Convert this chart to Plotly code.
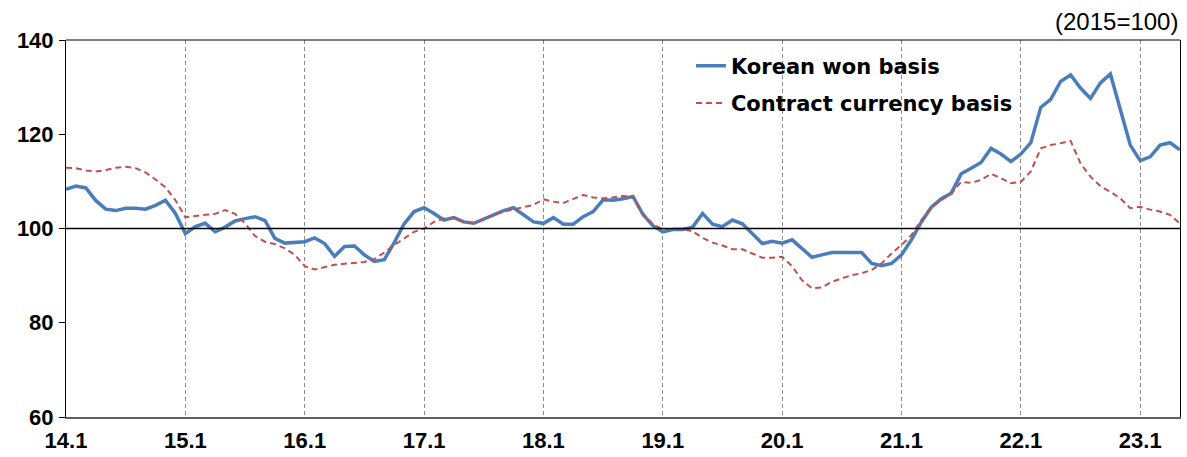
import plotly.graph_objects as go

# monthly index, 2014.1 .. 2023.5 (2015=100)
won_basis = [
    108.3, 109.0, 108.6, 105.9, 104.1, 103.8, 104.3, 104.3, 104.1, 104.9, 106.0, 103.2,
    98.9, 100.4, 101.1, 99.3, 100.3, 101.6, 102.1, 102.5, 101.7, 97.9, 96.9, 97.0,
    97.2, 98.0, 96.8, 94.1, 96.2, 96.3, 94.4, 93.0, 93.4, 97.0, 101.0, 103.6,
    104.4, 103.2, 101.8, 102.3, 101.4, 101.1, 102.0, 102.8, 103.8, 104.4, 102.9, 101.4,
    101.1, 102.3, 100.9, 100.9, 102.5, 103.6, 106.1, 106.0, 106.3, 106.8, 103.0, 100.6,
    99.3, 99.8, 99.8, 100.3, 103.2, 100.9, 100.4, 101.8, 101.0, 98.8, 96.8, 97.3,
    96.9, 97.6, 95.8, 93.9, 94.4, 94.9, 94.9, 94.9, 94.9, 92.6, 92.1, 92.6,
    94.4, 97.6, 101.4, 104.5, 106.3, 107.5, 111.6, 112.8, 114.0, 117.0, 115.8, 114.2,
    115.8, 118.2, 125.7, 127.4, 131.2, 132.6, 129.8, 127.6, 130.9, 132.8, 125.1, 117.7,
    114.4, 115.2, 117.7, 118.2, 116.7,
]
contract_basis = [
    112.9, 112.8, 112.3, 112.1, 112.4, 112.9, 113.1, 112.8, 111.9, 110.4, 108.7, 106.0,
    102.4, 102.7, 102.9, 103.1, 103.9, 103.1, 101.1, 98.4, 97.2, 96.7, 95.8, 94.4,
    92.0, 91.3, 91.8, 92.3, 92.5, 92.7, 92.9, 93.5, 94.9, 96.5, 97.9, 99.3,
    100.0, 101.4, 102.1, 102.2, 101.3, 101.1, 102.0, 102.9, 103.6, 104.1, 104.6, 105.0,
    106.2, 105.7, 105.4, 106.2, 107.1, 106.6, 106.4, 106.6, 106.9, 106.8, 103.2, 100.9,
    99.8, 99.9, 99.9, 99.4, 98.0, 97.0, 96.4, 95.6, 95.6, 94.7, 93.8, 93.8,
    94.0, 92.0, 89.0, 87.3, 87.5, 88.7, 89.4, 90.1, 90.5, 91.2, 92.6, 94.7,
    96.5, 98.6, 101.8, 104.5, 106.0, 107.4, 109.9, 109.7, 110.3, 111.6, 110.7, 109.6,
    109.9, 112.1, 117.0, 117.7, 118.1, 118.6, 113.8, 111.0, 109.0, 107.8, 106.4, 104.3,
    104.6, 104.0, 103.6, 102.9, 101.0,
]
months = list(range(len(won_basis)))
tick_pos = [0, 12, 24, 36, 48, 60, 72, 84, 96, 108]
tick_labels = ["14.1", "15.1", "16.1", "17.1", "18.1", "19.1", "20.1", "21.1", "22.1", "23.1"]

fig = go.Figure()
fig.add_trace(go.Scatter(
    x=months, y=won_basis, mode="lines", name="Korean won basis",
    legendgroup="a", line={"color": "#4a7ebb", "width": 3.5},
))
fig.add_trace(go.Scatter(
    x=months, y=contract_basis, mode="lines", name="Contract currency basis",
    legendgroup="b", line={"color": "#c0504d", "width": 2, "dash": "6px,4px"},
))

fig.add_hline(y=100, line={"color": "black", "width": 1.3})
# top frame line
fig.add_shape(type="line", xref="paper", yref="paper", x0=0, x1=1, y0=1, y1=1,
              line={"color": "black", "width": 1})

fig.add_annotation(
    text="(2015=100)", xref="paper", yref="paper", x=1.0, y=1.05,
    xanchor="right", yanchor="middle", showarrow=False,
    font={"family": "Liberation Sans", "size": 24, "color": "black"},
)

fig.update_layout(
    width=1187,
    height=457,
    paper_bgcolor="white",
    plot_bgcolor="white",
    margin={"l": 66, "r": 7, "t": 40, "b": 40},
    showlegend=True,
    legend={
        "x": 0.561, "y": 0.985, "xanchor": "left", "yanchor": "top",
        "bgcolor": "rgba(0,0,0,0)", "traceorder": "grouped", "tracegroupgap": 7,
        "font": {"family": "DejaVu Sans", "size": 21, "color": "black", "weight": "bold"},
    },
)
fig.update_xaxes(
    range=[0, 112], tickvals=tick_pos, ticktext=tick_labels, automargin=False,
    showgrid=True, gridcolor="#8c8c8c", gridwidth=1, griddash="4px,3px",
    showline=True, linecolor="#606060", linewidth=2, ticks="", zeroline=False,
    ticklabelstandoff=3,
    tickfont={"family": "Liberation Sans", "size": 22, "color": "black", "weight": "bold"},
)
fig.update_yaxes(
    range=[60, 140], dtick=20, showgrid=False, zeroline=False, automargin=False,
    showline=True, linecolor="black", linewidth=1, mirror=True,
    ticks="outside", ticklen=6, tickcolor="black", ticklabelstandoff=1,
    tickfont={"family": "Liberation Sans", "size": 22, "color": "black", "weight": "bold"},
)

fig.write_html(
    "out.html",
    config={"displayModeBar": False},
    post_script="document.body.style.margin='0px';",
)
